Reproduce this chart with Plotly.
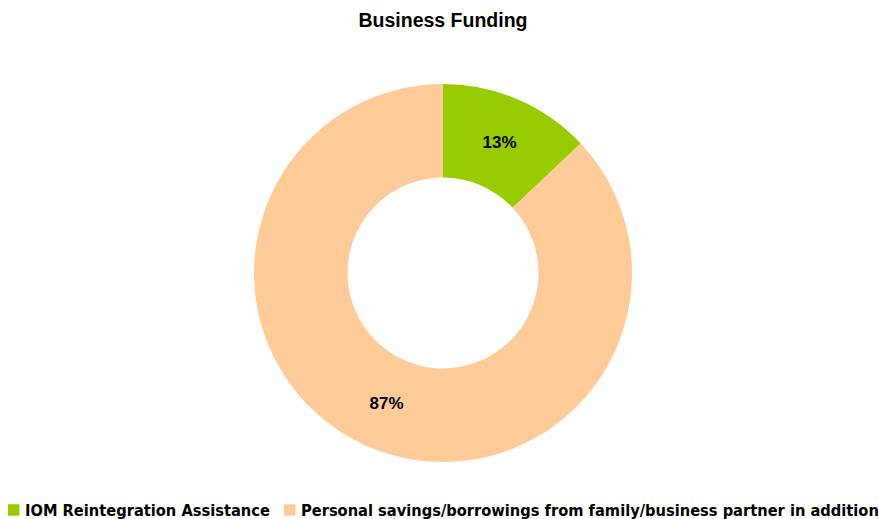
import plotly.graph_objects as go

labels = ["IOM Reintegration Assistance",
          "Personal savings/borrowings from family/business partner in addition"]
values = [13, 87]
colors = ["#99CC00", "#FFCC99"]

W, H = 879, 519
cx, cy, r = 443, 273, 189

fig = go.Figure(go.Pie(
    labels=labels, values=values, hole=0.505, sort=False,
    direction="clockwise", rotation=0,
    marker=dict(colors=colors, line=dict(width=0)),
    texttemplate="%{percent:.0%}", textposition="inside",
    insidetextorientation="horizontal",
    textfont=dict(family="Liberation Sans", size=17, color="black", weight="bold"),
    domain=dict(x=[(cx - r) / W, (cx + r) / W],
                y=[(H - cy - r) / H, (H - cy + r) / H]),
    showlegend=False,
))

# legend drawn as swatches + text labels (positions in pixels)
leg_font = dict(family="DejaVu Sans Condensed, Liberation Sans Narrow, Arial Narrow, sans-serif",
                size=16.3, color="black", weight="bold")
swatch_x = [8, 284]
text_x = [23, 299]
leg_y = 510
sw = 11.5
for lab, col, sx, tx in zip(labels, colors, swatch_x, text_x):
    fig.add_shape(type="rect", xref="paper", yref="paper",
                  x0=sx / W, x1=(sx + sw) / W,
                  y0=(H - leg_y - sw / 2) / H, y1=(H - leg_y + sw / 2) / H,
                  fillcolor=col, line=dict(width=0))
    fig.add_annotation(text=lab, xref="paper", yref="paper",
                       x=tx / W, y=(H - leg_y) / H, xanchor="left", yanchor="middle",
                       showarrow=False, font=leg_font)

fig.update_layout(
    width=W, height=H, margin=dict(l=0, r=0, t=0, b=0),
    paper_bgcolor="white", plot_bgcolor="white",
    title=dict(text="<b>Business Funding</b>", x=443 / W, xanchor="center",
               y=1 - 20 / H, yanchor="middle",
               font=dict(family="Liberation Sans", size=19.5, color="black")),
    showlegend=False,
)
fig.write_html("out.html", config={"displayModeBar": False},
               post_script="document.body.style.margin='0';document.body.style.overflow='hidden';")
